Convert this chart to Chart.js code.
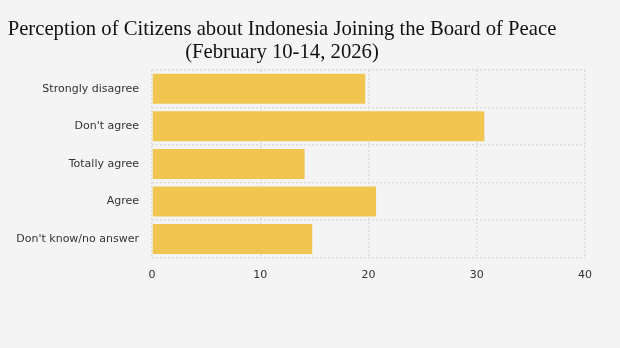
<!DOCTYPE html>
<html>
<head>
<meta charset="utf-8">
<script src="https://cdn.jsdelivr.net/npm/chart.js@4/dist/chart.umd.min.js"></script>
<style>
    html, body { margin: 0; padding: 0; background: #f4f4f4; }
    #wrap { position: relative; width: 620px; height: 348px; }
    #title {
        position: absolute; left: 0; top: 17px; width: 564px;
        text-align: center; font-family: "Liberation Serif", serif;
        font-size: 20.7px; line-height: 23px; color: #111;
    }
    canvas { position: absolute; left: 0; top: 0; }
</style>
</head>
<body>
<div id="wrap">
    <canvas id="chart" width="620" height="348"></canvas>
    <div id="title">Perception of Citizens about Indonesia Joining the Board of Peace<br>(February 10-14, 2026)</div>
</div>
<script>
// Survey answers, top to bottom
const categories = ['Strongly disagree', "Don't agree", 'Totally agree', 'Agree', "Don't know/no answer"];
const percentages = [19.7, 30.7, 14.1, 20.7, 14.8];
const xMax = 40;
const xStep = 10;

const gridStyle = {
    color: '#dcdcdc',
    lineWidth: 1.5,
    drawTicks: false
};
// v4 puts grid dashes on the border options; the border line itself is hidden
const borderStyle = { display: false, dash: [2, 2] };
const tickFont = { family: 'DejaVu Sans', size: 11 };

new Chart(document.getElementById('chart').getContext('2d'), {
    type: 'bar',
    data: {
        labels: categories,
        datasets: [{
            data: percentages,
            backgroundColor: '#f0c651',
            barPercentage: 0.8,
            categoryPercentage: 1
        }]
    },
    options: {
        indexAxis: 'y',
        responsive: false,
        animation: false,
        layout: { padding: { top: 70, right: 35, bottom: 55, left: 0 } },
        plugins: {
            legend: { display: false },
            tooltip: { enabled: false }
        },
        scales: {
            x: {
                min: 0,
                max: xMax,
                grid: gridStyle,
                border: borderStyle,
                ticks: { stepSize: xStep, padding: 11, color: '#333', font: tickFont }
            },
            y: {
                grid: { ...gridStyle, offset: true },
                border: borderStyle,
                ticks: { padding: 13, color: '#333', font: tickFont },
                afterFit: scale => { scale.width = 152; }
            }
        }
    }
});
</script>
</body>
</html>
